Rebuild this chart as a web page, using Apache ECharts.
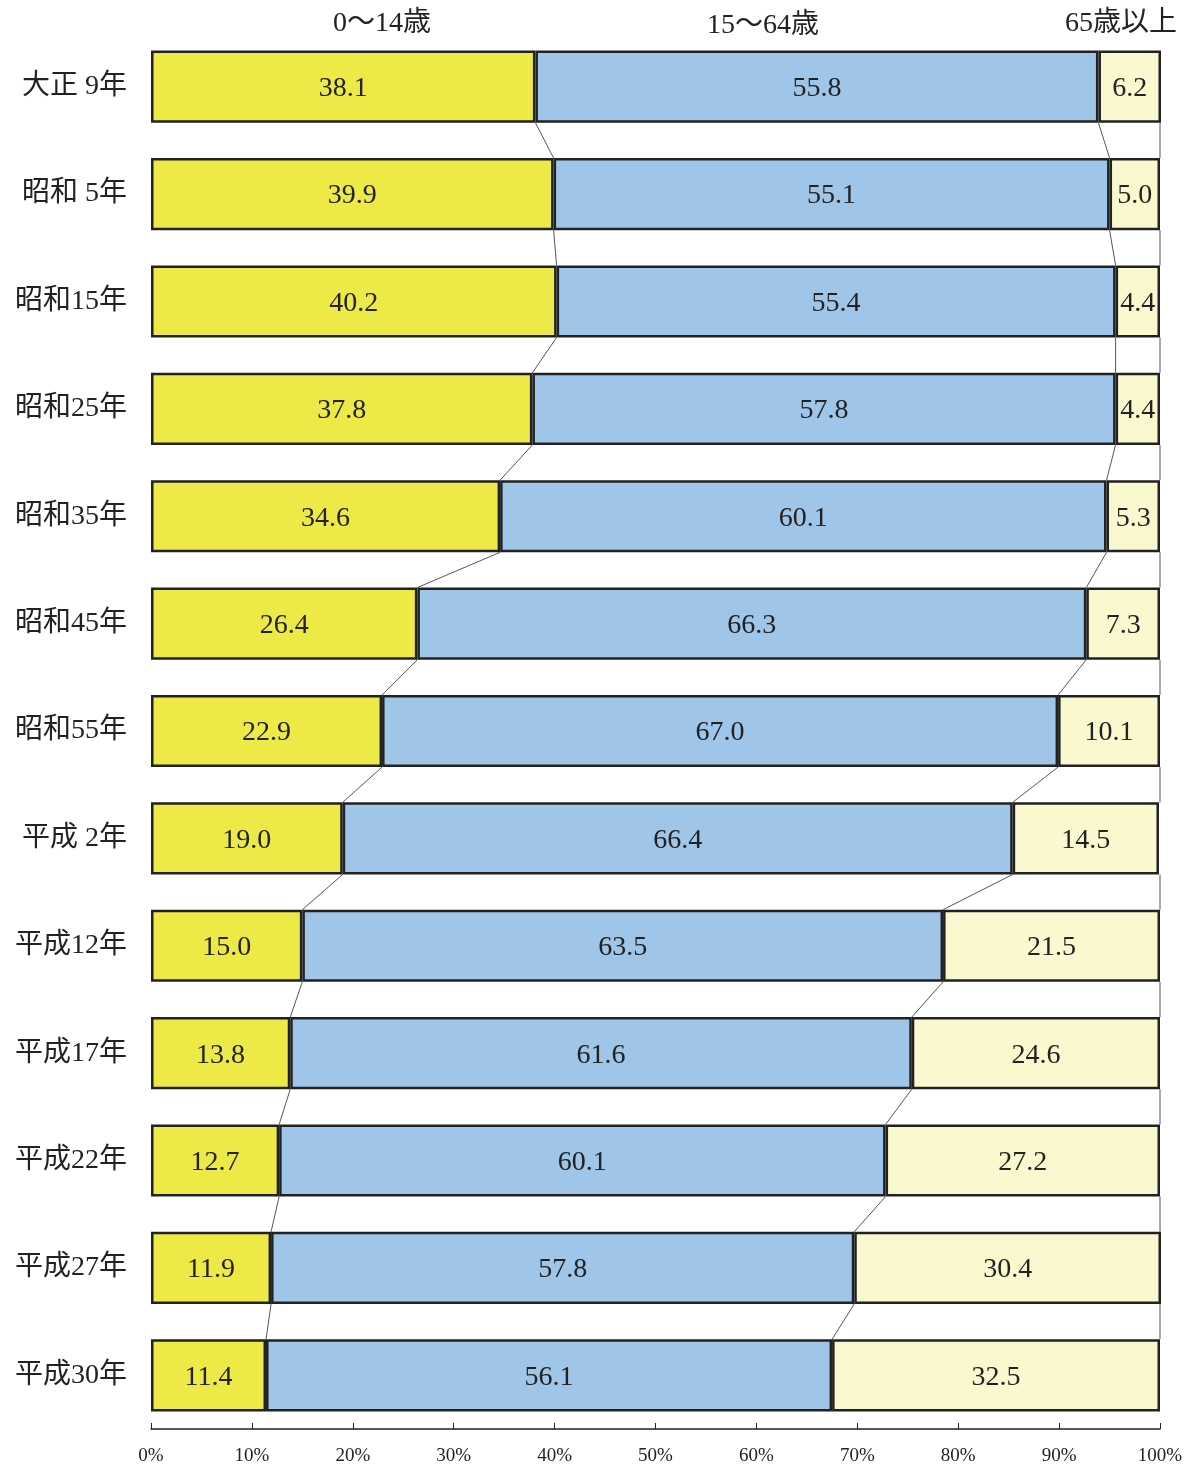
<!DOCTYPE html>
<html>
<head>
<meta charset="utf-8">
<script src="https://cdn.jsdelivr.net/npm/echarts@6/dist/echarts.min.js"></script>
<style>
html,body{margin:0;padding:0;background:#fff;}
#chart{width:1193px;height:1468px;}
</style>
</head>
<body>
<div id="chart"></div>
<script>
const categories = ["大正 9年","昭和 5年","昭和15年","昭和25年","昭和35年","昭和45年","昭和55年","平成 2年","平成12年","平成17年","平成22年","平成27年","平成30年"];
const age0to14 = [38.1,39.9,40.2,37.8,34.6,26.4,22.9,19.0,15.0,13.8,12.7,11.9,11.4];
const age15to64 = [55.8,55.1,55.4,57.8,60.1,66.3,67.0,66.4,63.5,61.6,60.1,57.8,56.1];
const age65plus = [6.2,5.0,4.4,4.4,5.3,7.3,10.1,14.5,21.5,24.6,27.2,30.4,32.5];
const seriesNames = ["0～14歳","15～64歳","65歳以上"];

const SERIF = '"Liberation Serif","Noto Sans CJK JP",serif';
const BAR_FRAC = 0.672;

const connectorData = [];
for (let i = 0; i < categories.length - 1; i++) {
  const a1 = age0to14[i], b1 = age0to14[i+1];
  const a2 = age0to14[i] + age15to64[i], b2 = age0to14[i+1] + age15to64[i+1];
  connectorData.push([a1, i, b1, a2, b2]);
}

const chart = echarts.init(document.getElementById('chart'), null, {renderer:'canvas'});
const barCommon = {
  type: 'bar',
  stack: 'total',
  barWidth: (BAR_FRAC*100) + '%',
  clip: false,
  itemStyle: {borderColor: '#222', borderWidth: 2.5},
  label: {show: true, position: 'inside', offset: [0, 2], color: '#222', fontFamily: SERIF, fontSize: 28,
          formatter: p => p.value.toFixed(1)}
};
chart.setOption({
  animation: false,
  grid: {left: 151, right: 33, top: 33, height: 1396, containLabel: false},
  xAxis: {
    type: 'value', min: 0, max: 100, interval: 10,
    axisLine: {show: true, lineStyle: {color: '#222', width: 1.5}},
    axisTick: {show: true, inside: true, length: 6, lineStyle: {color: '#222'}},
    splitLine: {show: false},
    axisLabel: {formatter: '{value}%', color: '#222', fontFamily: SERIF, fontSize: 19, margin: 18}
  },
  yAxis: {
    type: 'category', data: categories, inverse: true,
    axisLine: {show: false}, axisTick: {show: false},
    axisLabel: {color: '#222', fontFamily: SERIF, fontSize: 28, margin: 24, padding: [5, 0, 0, 0]}
  },
  graphic: [
    {type:'text', x: 382, y: 24, style:{text: seriesNames[0], fill:'#222', font: '28px ' + SERIF, textAlign:'center', textVerticalAlign:'middle'}},
    {type:'text', x: 763, y: 26, style:{text: seriesNames[1], fill:'#222', font: '28px ' + SERIF, textAlign:'center', textVerticalAlign:'middle'}},
    {type:'text', x: 1121, y: 24, style:{text: seriesNames[2], fill:'#222', font: '28px ' + SERIF, textAlign:'center', textVerticalAlign:'middle'}}
  ],
  series: [
    Object.assign({}, barCommon, {name: seriesNames[0], data: age0to14, itemStyle: Object.assign({}, barCommon.itemStyle, {color: '#EDE946'})}),
    Object.assign({}, barCommon, {name: seriesNames[1], data: age15to64, itemStyle: Object.assign({}, barCommon.itemStyle, {color: '#9FC5E8'})}),
    Object.assign({}, barCommon, {name: seriesNames[2], data: age65plus, itemStyle: Object.assign({}, barCommon.itemStyle, {color: '#FAF8CF'})}),
    {
      type: 'custom', z: 1, silent: true,
      data: connectorData,
      encode: {x: 0, y: 1},
      renderItem: function (params, api) {
        const i = api.value(1);
        const band = api.size([0, 1])[1];
        const half = band * BAR_FRAC / 2;
        const pairs = [[api.value(0), api.value(2)], [api.value(3), api.value(4)], [100, 100]];
        const children = pairs.map(pr => {
          const p1 = api.coord([pr[0], i]);
          const p2 = api.coord([pr[1], i + 1]);
          return {type: 'line', shape: {x1: p1[0], y1: p1[1] + half, x2: p2[0], y2: p2[1] - half},
                  style: {stroke: '#555', lineWidth: 1}};
        });
        return {type: 'group', children: children};
      }
    }
  ]
});
</script>
</body>
</html>
